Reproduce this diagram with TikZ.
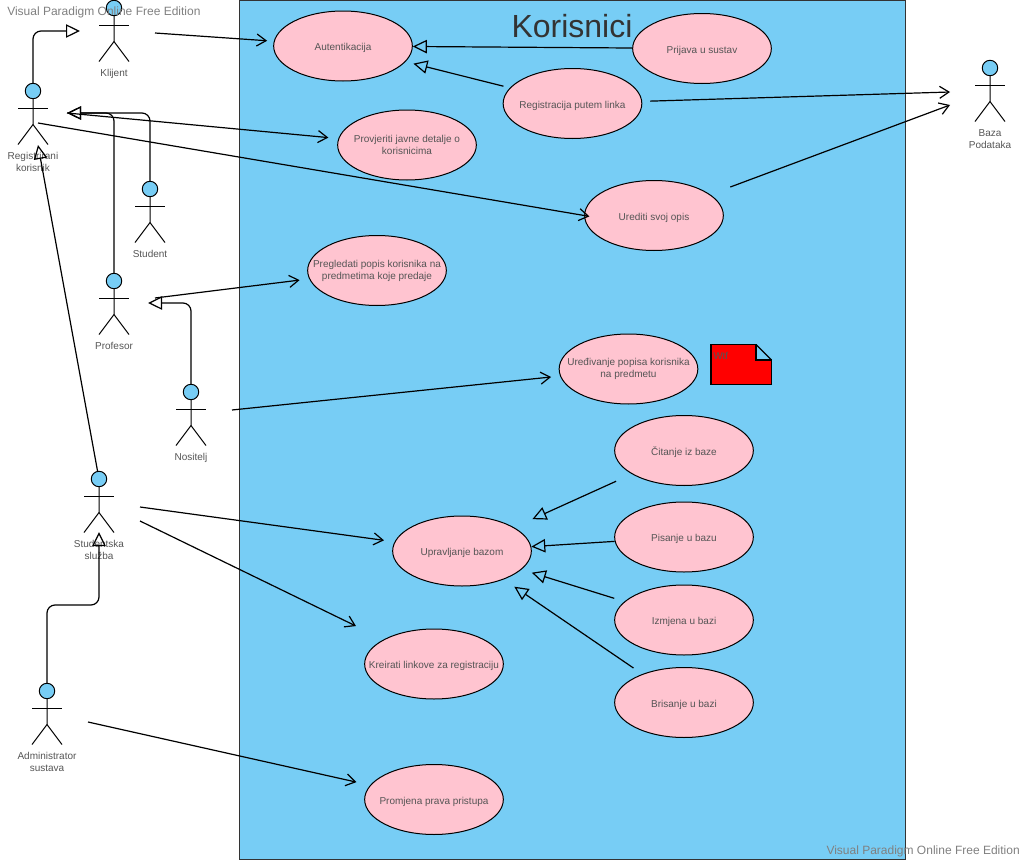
\documentclass[tikz,border=0pt]{standalone}
\usepackage{fontspec}
\setmainfont{Liberation Sans}
\usetikzlibrary{shapes, arrows.meta, positioning}

\definecolor{boxblue}{HTML}{77CDF5}
\definecolor{casepink}{HTML}{FFC4D0}
\definecolor{labelgray}{HTML}{555555}

% stick figure: name, x, y of the head, label
\newcommand{\actorfig}[4]{
  \node[actorhead] (#1) at (#2,#3) {};
  \draw[actorline] (#1.south) -- ++(0,25.3) coordinate (#1Hip) -- ++(-15,20);
  \draw[actorline] (#1Hip) -- ++(15,20);
  \draw[actorline] ([xshift=-11.25pt,yshift=-7pt]#1.south) -- ++(30,0);
  \node[actorlabel] (#1Label) at (#2,#3+61) {#4};
}

\begin{document}
\begin{tikzpicture}[
    x=0.75pt, y=-0.75pt,
    usecase/.style={ellipse, draw=black, line width=0.75pt, fill=casepink, inner xsep=-20pt, inner ysep=0pt, minimum width=104pt, minimum height=52.5pt, align=center, text=labelgray, font=\fontsize{7.5}{9}\selectfont},
    oneline/.style={text height=7.5pt, text depth=0.5pt},
    actorhead/.style={circle, draw=black, line width=0.75pt, fill=boxblue, inner sep=0pt, minimum size=11.6pt},
    actorline/.style={draw=black, line width=0.75pt},
    actorlabel/.style={anchor=north, inner sep=0pt, align=center, text=labelgray, font=\fontsize{7.5}{9}\selectfont},
    watermark/.style={inner sep=0pt, text=black!50, font=\fontsize{9}{11}\selectfont},
    assoc/.style={draw=black, line width=0.9pt, -{Straight Barb[length=7pt, width=9pt]}},
    gen/.style={draw=black, line width=0.9pt, rounded corners=6pt, -{Triangle[open, length=10.5pt, width=10pt]}}
]
\useasboundingbox (0,0) rectangle (1026,860);

% Boundary
\node[draw=black!80, line width=0.75pt, fill=boxblue, inner sep=0pt, minimum width=499.5pt, minimum height=644.25pt] (sustav) at (572.5,430) {};
\node[inner sep=0pt, text=black!80, font=\fontsize{24}{28}\selectfont] (naslov) at (572,26) {Korisnici};

% Use cases
\node[usecase, oneline] (auth) at (343,46) {Autentikacija};
\node[usecase, oneline] (prijava) at (702,48.5) {Prijava u sustav};
\node[usecase, oneline] (registracija) at (572.5,103.5) {Registracija putem linka};
\node[usecase] (provjeriti) at (407,145) {Provjeriti javne detalje o\\korisnicima};
\node[usecase, oneline] (urediti) at (654,215.5) {Urediti svoj opis};
\node[usecase] (pregledati) at (377,270.5) {Pregledati popis korisnika na\\predmetima koje predaje};
\node[usecase] (uredivanje) at (628.5,369) {Uređivanje popisa korisnika\\na predmetu};
\node[usecase, oneline] (citanje) at (684,450.5) {Čitanje iz baze};
\node[usecase, oneline] (pisanje) at (684,537) {Pisanje u bazu};
\node[usecase, oneline] (izmjena) at (684,620) {Izmjena u bazi};
\node[usecase, oneline] (brisanje) at (684,702.5) {Brisanje u bazi};
\node[usecase, oneline] (upravljanje) at (462,551) {Upravljanje bazom};
\node[usecase, oneline] (kreirati) at (434,664) {Kreirati linkove za registraciju};
\node[usecase, oneline] (promjena) at (434,799.5) {Promjena prava pristupa};

% Note
\draw[draw=black, line width=0.9pt, fill=red] (711,344.5) -- (756,344.5) -- (756,360) -- (771.5,360) -- (771.5,384.5) -- (711,384.5) -- cycle;
\draw[draw=black, line width=0.9pt] (756,344.5) -- (771.5,360);
\node[anchor=west, inner sep=0pt, text=labelgray, font=\fontsize{7.5}{9}\selectfont] (wtf) at (713,356) {Wtf};

% Actors
\actorfig{klijent}{114}{8}{Klijent}
\actorfig{registrirani}{33}{91}{Registrirani\\korisnik}
\actorfig{student}{150}{189}{Student}
\actorfig{profesor}{114}{281}{Profesor}
\actorfig{nositelj}{191}{392}{Nositelj}
\actorfig{sluzba}{99}{479}{Studentska\\služba}
\actorfig{admin}{47}{691}{Administrator\\sustava}
\actorfig{baza}{990}{68}{Baza\\Podataka}

% Free ends
\coordinate (klijentGen) at (80,31);
\coordinate (klijentOut) at (155,33);
\coordinate (registriraniGen) at (67,113);
\coordinate (registriraniOut) at (67,113);
\coordinate (registriraniOpis) at (38,123);
\coordinate (registriraniDolje) at (38,145);
\coordinate (profesorGen) at (148,303);
\coordinate (profesorOut) at (155,298);
\coordinate (nositeljOut) at (232,410);
\coordinate (sluzbaGen) at (99,532);
\coordinate (sluzbaBaza) at (140,507);
\coordinate (sluzbaLink) at (140,521);
\coordinate (adminBend) at (47,605);
\coordinate (adminOut) at (88,722);
\coordinate (bazaLink) at (950,92);
\coordinate (bazaOpis) at (950,105);

% Generalisations
\draw[gen] (registrirani.north) |- (klijentGen);
\draw[gen] (student.north) |- (registriraniGen);
\draw[gen] (profesor.north) |- (registriraniGen);
\draw[gen] (nositelj.north) |- (profesorGen);
\draw[gen] (sluzba) -- (registriraniDolje);
\draw[gen] (admin.north) -- (adminBend) -| (sluzbaGen);
\draw[gen] (prijava) -- (auth);
\draw[gen, shorten <=5pt, shorten >=6pt] (registracija) -- (auth);
\draw[gen, shorten <=13pt, shorten >=15pt] (citanje) -- (upravljanje);
\draw[gen] (pisanje) -- (upravljanje);
\draw[gen, shorten <=8pt, shorten >=8pt] (izmjena) -- (upravljanje);
\draw[gen, shorten <=8pt, shorten >=9.6pt] (brisanje) -- (upravljanje);

% Associations
\draw[assoc, shorten >=5pt] (klijentOut) -- (auth);
\draw[assoc, shorten >=7.5pt] (registriraniOut) -- (provjeriti);
\draw[assoc, shorten >=-4pt] (registriraniOpis) -- (urediti.west);
\draw[assoc, shorten >=7.2pt] (profesorOut) -- (pregledati);
\draw[assoc, shorten >=6.8pt] (nositeljOut) -- (uredivanje);
\draw[assoc, shorten >=8pt] (sluzbaBaza) -- (upravljanje);
\draw[assoc, shorten >=23pt] (sluzbaLink) -- (kreirati);
\draw[assoc, shorten >=10.5pt] (adminOut) -- (promjena);
\draw[assoc, shorten <=6pt] (registracija) -- (bazaLink);
\draw[assoc, shorten <=16pt] (urediti) -- (bazaOpis);

% Watermarks
\node[watermark, anchor=west] (markTop) at (7,12) {Visual Paradigm Online Free Edition};
\node[watermark, anchor=east] (markBottom) at (1020,851) {Visual Paradigm Online Free Edition};

\end{tikzpicture}
\end{document}
